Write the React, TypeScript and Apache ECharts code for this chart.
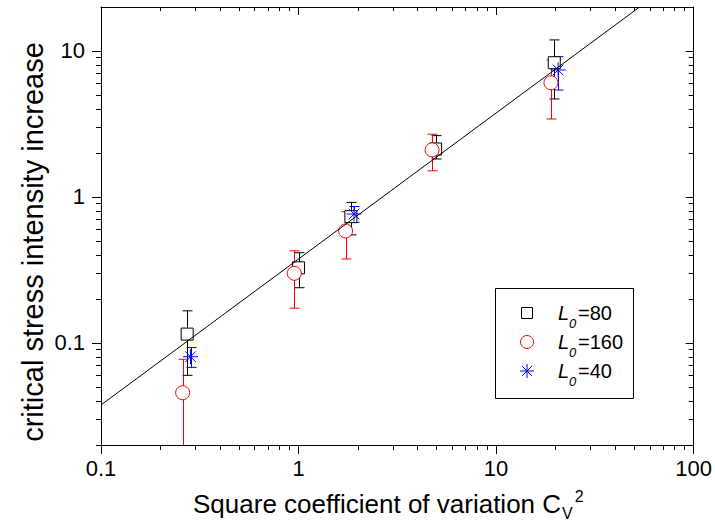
import { useEffect, useRef } from 'react';
import * as echarts from 'echarts';

// ---- axis ticks ----
const xRange = [0.1, 100];
const yRange = [0.02, 20];
const xMajor = [0.1, 1, 10, 100];
const xMajorLabels = ['0.1', '1', '10', '100'];
const xMinor = [0.2, 0.3, 0.4, 0.5, 0.6, 0.7, 0.8, 0.9, 2, 3, 4, 5, 6, 7, 8, 9, 20, 30, 40, 50, 60, 70, 80, 90];
const yMajor = [0.1, 1, 10];
const yMajorLabels = ['0.1', '1', '10'];
const yMinor = [0.02, 0.03, 0.04, 0.05, 0.06, 0.07, 0.08, 0.09, 0.2, 0.3, 0.4, 0.5, 0.6, 0.7, 0.8, 0.9, 2, 3, 4, 5, 6, 7, 8, 9];

// ---- L0 = 80 (squares) ----
const sqX = [0.273, 1.0, 1.84, 4.94, 19.7];
const sqY = [0.115, 0.327, 0.733, 2.13, 8.31];
const sqLo = [0.06, 0.239, 0.55, 1.82, 4.69];
const sqHi = [0.166, 0.415, 0.918, 2.63, 11.9];

// ---- L0 = 160 (circles) ----
const ciX = [0.259, 0.951, 1.73, 4.74, 18.95];
const ciY = [0.0456, 0.3, 0.585, 2.1, 6.06];
const ciLo = [0.02, 0.173, 0.376, 1.51, 3.42];
const ciHi = [0.0773, 0.428, 0.792, 2.69, 8.67];

// ---- L0 = 40 (stars) ----
const stX = [0.284, 1.91, 20.6];
const stY = [0.0805, 0.764, 7.41];
const stLo = [0.068, 0.67, 5.4];
const stHi = [0.093, 0.86, 9.14];

// ---- fitted line ----
const fitX = [0.1, 53];
const fitY = [0.0376, 19.9];

const FONT = '"Liberation Sans", Arial, Helvetica, sans-serif';
const BLACK = '#000000';
const RED = '#ff0000';
const BLUE = '#0000ff';

const L = (v: number) => Math.log10(v);

function labelFor(majors: number[], labels: string[]) {
  return (v: number) => {
    const i = majors.findIndex((m) => Math.abs(L(m) - v) < 1e-6);
    return i >= 0 ? labels[i] : '';
  };
}

function errorSeries(xs: number[], lo: number[], hi: number[], color: string) {
  return {
    type: 'custom',
    xAxisIndex: 0,
    yAxisIndex: 0,
    data: xs.map((x, i) => [x, lo[i], hi[i]]),
    encode: { x: 0, y: [1, 2] },
    renderItem: (params: any, api: any) => {
      const x = api.value(0);
      const pHi = api.coord([x, api.value(2)]);
      const pLo = api.coord([x, api.value(1)]);
      const cs = params.coordSys;
      const bottom = cs.y + cs.height;
      const px = Math.round(pHi[0]) + 0.5;
      const loY = isFinite(pLo[1]) ? Math.min(pLo[1], bottom) : bottom;
      const half = 5;
      const st = { stroke: color, lineWidth: 1 };
      const children: any[] = [
        { type: 'line', shape: { x1: px, y1: pHi[1], x2: px, y2: loY }, style: st },
        { type: 'line', shape: { x1: px - half, y1: pHi[1], x2: px + half, y2: pHi[1] }, style: st },
      ];
      if (pLo[1] < bottom - 0.5) {
        children.push({ type: 'line', shape: { x1: px - half, y1: pLo[1], x2: px + half, y2: pLo[1] }, style: st });
      }
      return { type: 'group', children };
    },
  };
}

function tickAxis(kind: 'x' | 'y', pos: string, values: number[], len: number, inside: boolean, showLine: boolean, label?: any) {
  const rng = kind === 'x' ? xRange : yRange;
  return {
    type: 'value',
    min: L(rng[0]),
    max: L(rng[1]),
    position: pos,
    axisLine: { show: showLine, onZero: false, lineStyle: { color: BLACK, width: 1 } },
    axisTick: { show: true, inside, length: len, customValues: values.map(L), lineStyle: { color: BLACK, width: 1 } },
    axisLabel: label ? label : { show: false },
    splitLine: { show: false },
  };
}

export default function App() {
  const ref = useRef<HTMLDivElement>(null);
  useEffect(() => {
    document.body.style.margin = '0';
    if (!ref.current) return;
    const chart = echarts.init(ref.current, null, { renderer: 'svg' });

    const ctx = document.createElement('canvas').getContext('2d')!;
    const mainTitle = 'Square coefficient of variation C';
    ctx.font = `26px ${FONT}`;
    const wMain = ctx.measureText(mainTitle).width;
    ctx.font = `16px ${FONT}`;
    const wV = ctx.measureText('V').width;
    const titleX = 193;

    const leg = { x: 495, y: 288, w: 138, h: 110, sx: 527, tx: 558, rows: [313, 342, 371] };
    const legNames = ['=80', '=160', '=40'];
    const legText: any[] = [];
    leg.rows.forEach((ry, i) => {
      legText.push(
        { type: 'text', x: leg.tx, y: ry, z: 11, style: { text: 'L', font: `italic 20px ${FONT}`, fill: BLACK, textAlign: 'left', textVerticalAlign: 'middle', align: 'left', verticalAlign: 'middle' } },
        { type: 'text', x: leg.tx + 11, y: ry + 10, z: 11, style: { text: '0', font: `italic 13px ${FONT}`, fill: BLACK, textAlign: 'left', textVerticalAlign: 'middle', align: 'left', verticalAlign: 'middle' } },
        { type: 'text', x: leg.tx + 20, y: ry, z: 11, style: { text: legNames[i], font: `20px ${FONT}`, fill: BLACK, textAlign: 'left', textVerticalAlign: 'middle', align: 'left', verticalAlign: 'middle' } },
      );
    });
    const sr = 7;
    const d = sr * Math.SQRT1_2;
    const starY = leg.rows[2];
    const starLines = [
      [0, -sr, 0, sr], [-sr, 0, sr, 0], [-d, -d, d, d], [-d, d, d, -d],
    ].map((s) => ({ type: 'line', z: 11, shape: { x1: leg.sx + s[0], y1: starY + s[1], x2: leg.sx + s[2], y2: starY + s[3] }, style: { stroke: BLUE, lineWidth: 1 } }));

    const option: any = {
      animation: false,
      backgroundColor: '#ffffff',
      textStyle: { fontFamily: FONT },
      grid: { left: 101, right: 19, top: 7, bottom: 76, containLabel: false },
      xAxis: [
        { type: 'log', logBase: 10, min: xRange[0], max: xRange[1], show: false },
        tickAxis('x', 'bottom', xMajor, 9, false, true, {
          show: true, customValues: xMajor.map(L), formatter: labelFor(xMajor, xMajorLabels),
          margin: 12, fontSize: 22, color: BLACK, fontFamily: FONT,
        }),
        tickAxis('x', 'bottom', xMinor, 5, false, false),
        tickAxis('x', 'top', xMajor, 8, true, true),
        tickAxis('x', 'top', xMinor, 4, true, false),
      ],
      yAxis: [
        { type: 'log', logBase: 10, min: yRange[0], max: yRange[1], show: false },
        tickAxis('y', 'left', yMajor, 9, false, true, {
          show: true, customValues: yMajor.map(L), formatter: labelFor(yMajor, yMajorLabels),
          margin: 16, fontSize: 22, color: BLACK, fontFamily: FONT,
        }),
        tickAxis('y', 'left', yMinor, 5, false, false),
        tickAxis('y', 'right', yMajor, 8, true, true),
        tickAxis('y', 'right', yMinor, 5, true, false),
      ],
      series: [
        {
          type: 'line', xAxisIndex: 0, yAxisIndex: 0,
          data: fitX.map((x, i) => [x, fitY[i]]),
          showSymbol: false, symbol: 'none',
          lineStyle: { color: BLACK, width: 1 },
        },
        errorSeries(sqX, sqLo, sqHi, BLACK),
        {
          type: 'scatter', xAxisIndex: 0, yAxisIndex: 0,
          data: sqX.map((x, i) => [x, sqY[i]]),
          symbol: 'rect', symbolSize: 12,
          itemStyle: { color: '#ffffff', borderColor: BLACK, borderWidth: 1, opacity: 1 },
        },
        errorSeries(ciX, ciLo, ciHi, RED),
        {
          type: 'scatter', xAxisIndex: 0, yAxisIndex: 0,
          data: ciX.map((x, i) => [x, ciY[i]]),
          symbol: 'circle', symbolSize: 14,
          itemStyle: { color: '#ffffff', borderColor: RED, borderWidth: 1, opacity: 1 },
        },
        errorSeries(stX, stLo, stHi, BLUE),
        {
          type: 'scatter', xAxisIndex: 0, yAxisIndex: 0,
          data: stX.map((x, i) => [x, stY[i]]),
          symbol: 'path://M0,-10L0,10M-10,0L10,0M-7.07,-7.07L7.07,7.07M-7.07,7.07L7.07,-7.07',
          symbolSize: 15,
          itemStyle: { color: 'none', borderColor: BLUE, borderWidth: 1, opacity: 1 },
        },
      ],
      graphic: [
        {
          type: 'text', x: 33, y: 242, rotation: Math.PI / 2,
          style: { text: 'critical stress intensity increase', font: `29px ${FONT}`, fill: BLACK, textAlign: 'center', textVerticalAlign: 'middle', align: 'center', verticalAlign: 'middle' },
        },
        {
          type: 'text', x: titleX, y: 504,
          style: { text: mainTitle, font: `26px ${FONT}`, fill: BLACK, textAlign: 'left', textVerticalAlign: 'middle', align: 'left', verticalAlign: 'middle' },
        },
        {
          type: 'text', x: titleX + wMain + 1, y: 513,
          style: { text: 'V', font: `16px ${FONT}`, fill: BLACK, textAlign: 'left', textVerticalAlign: 'middle', align: 'left', verticalAlign: 'middle' },
        },
        {
          type: 'text', x: titleX + wMain + wV + 3, y: 496,
          style: { text: '2', font: `16px ${FONT}`, fill: BLACK, textAlign: 'left', textVerticalAlign: 'middle', align: 'left', verticalAlign: 'middle' },
        },
        {
          type: 'rect', z: 10,
          shape: { x: leg.x + 0.5, y: leg.y + 0.5, width: leg.w, height: leg.h },
          style: { fill: '#ffffff', stroke: BLACK, lineWidth: 1 },
        },
        {
          type: 'rect', z: 11,
          shape: { x: leg.sx - 5.5, y: leg.rows[0] - 5.5, width: 11, height: 11 },
          style: { fill: '#ffffff', stroke: BLACK, lineWidth: 1 },
        },
        {
          type: 'circle', z: 11,
          shape: { cx: leg.sx, cy: leg.rows[1], r: 6.5 },
          style: { fill: '#ffffff', stroke: RED, lineWidth: 1 },
        },
        ...starLines,
        ...legText,
      ],
    };
    chart.setOption(option);
    return () => chart.dispose();
  }, []);
  return <div ref={ref} style={{ width: 715, height: 521 }} />;
}
